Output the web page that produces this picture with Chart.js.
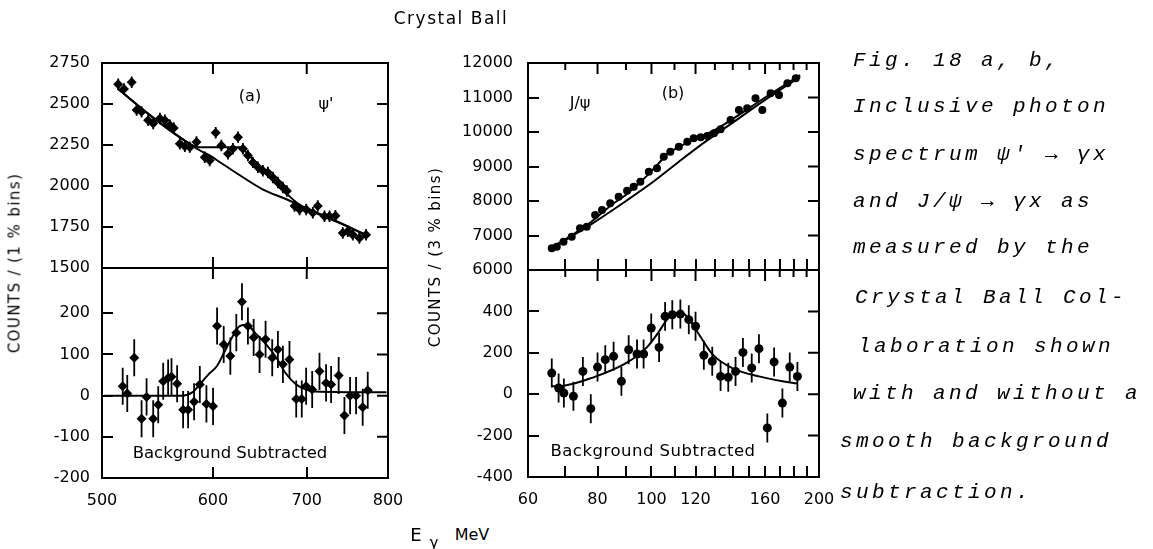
<!DOCTYPE html>
<html><head><meta charset="utf-8">
<script src="https://cdn.jsdelivr.net/npm/chart.js@4.4.0/dist/chart.umd.min.js"></script>
<style>
html,body{margin:0;padding:0;background:#fff;width:1153px;height:549px;overflow:hidden;position:relative;font-family:"DejaVu Sans",sans-serif;color:#000}
canvas{position:absolute}
.t{position:absolute;white-space:nowrap;line-height:1;transform:translate(-50%,-50%)}
.yl{position:absolute;white-space:nowrap;line-height:1;font-size:15px;letter-spacing:1.4px;transform:translate(-50%,-50%) rotate(-90deg)}
.cap{position:absolute;white-space:nowrap;font-family:"Liberation Mono",monospace;font-style:italic;font-size:21px;letter-spacing:3.4px;line-height:26px}
</style></head><body>
<canvas id="aTop"></canvas><canvas id="aBot"></canvas><canvas id="bTop"></canvas><canvas id="bBot"></canvas>

<div class="t" style="left:451px;top:18px;font-size:17px;letter-spacing:1.5px">Crystal Ball</div>
<div class="yl" style="left:15px;top:263px">COUNTS / (1 % bins)</div>
<div class="yl" style="left:435px;top:257px">COUNTS / (3 % bins)</div>
<div class="t" style="left:250px;top:96px;font-size:16px">(a)</div>
<div class="t" style="left:326px;top:104px;font-size:16px">ψ'</div>
<div class="t" style="left:673px;top:93px;font-size:16px">(b)</div>
<div class="t" style="left:580px;top:103px;font-size:16px">J/ψ</div>
<div class="t" style="left:230px;top:453px;font-size:16.5px">Background Subtracted</div>
<div class="t" style="left:653px;top:451px;font-size:16.5px;letter-spacing:0.5px">Background Subtracted</div>
<div class="t" style="left:416px;top:535px;font-size:18px">E</div>
<div class="t" style="left:434px;top:543px;font-size:15px">γ</div>
<div class="t" style="left:472px;top:535px;font-size:16px">MeV</div>

<div class="cap" style="left:853px;top:48px">Fig. 18 a, b,</div>
<div class="cap" style="left:853px;top:94px">Inclusive photon</div>
<div class="cap" style="left:853px;top:142px">spectrum ψ' → γx</div>
<div class="cap" style="left:853px;top:189px">and J/ψ → γx as</div>
<div class="cap" style="left:853px;top:235px">measured by the</div>
<div class="cap" style="left:855px;top:285px">Crystal Ball Col-</div>
<div class="cap" style="left:858px;top:334px">laboration shown</div>
<div class="cap" style="left:853px;top:381px">with and without a</div>
<div class="cap" style="left:840px;top:429px">smooth background</div>
<div class="cap" style="left:840px;top:480px">subtraction.</div>

<script>
// ---------- Panel (a): psi' (E in MeV, counts per 1% bin) ----------
const aTicksX = [500, 600, 700, 800];
const aLabelsX = [500, 600, 700, 800];
const aTopTicksY = [1500, 1750, 2000, 2250, 2500, 2750];
const aBotTicksY = [-200, -100, 0, 100, 200];

const aTopE = [513.5, 518.4, 525.0, 529.3, 533.6, 539.4, 543.9, 549.9, 554.4, 559.0, 562.6, 568.2, 572.9, 577.6, 584.0, 592.0, 596.8, 602.7, 608.4, 615.0, 620.0, 625.2, 630.3, 635.5, 640.7, 646.0, 651.3, 656.7, 662.1, 667.6, 673.1, 677.5, 686.1, 691.8, 699.4, 707.0, 712.8, 720.7, 726.7, 733.8, 742.7, 748.8, 755.0, 763.3, 771.7];
const aTopCounts = [2621, 2592, 2633, 2463, 2452, 2401, 2381, 2411, 2401, 2370, 2354, 2257, 2243, 2237, 2268, 2175, 2155, 2325, 2247, 2196, 2227, 2298, 2227, 2186, 2144, 2114, 2093, 2083, 2052, 2021, 1991, 1970, 1878, 1857, 1857, 1837, 1878, 1816, 1816, 1818, 1713, 1724, 1703, 1683, 1703];
const aTopErr = 35;
const aTopBgE = [513, 541, 568, 587, 597, 607, 620, 651, 677, 710, 743, 772];
const aTopBgCounts = [2595, 2432, 2298, 2218, 2185, 2145, 2093, 1980, 1919, 1837, 1765, 1700];
const aTopFitE = [513, 541, 568, 587, 607, 627, 638, 651, 666, 677, 692, 710, 743, 772];
const aTopFitCounts = [2595, 2432, 2298, 2236, 2237, 2236, 2178, 2103, 2021, 1955, 1885, 1842, 1767, 1700];

const aBotE = [517.3, 521.2, 527.2, 533.6, 538.0, 543.9, 548.4, 552.9, 557.4, 560.5, 565.7, 571.3, 576.0, 581.7, 587.2, 593.6, 600.1, 604.1, 610.7, 617.4, 623.5, 629.3, 635.5, 641.5, 647.8, 654.2, 661.4, 667.6, 673.1, 680.4, 688.0, 694.3, 699.3, 706.3, 714.8, 722.6, 728.6, 737.7, 744.7, 751.7, 759.1, 767.4, 773.8];
const aBotCounts = [23, 5, 92, -56, -3, -56, -22, 35, 43, 46, 29, -34, -34, -15, 27, -20, -26, 169, 124, 96, 153, 228, 169, 141, 100, 137, 92, 112, 76, 88, -8, -8, 23, 15, 59, 31, 27, 49, -48, 0, 0, -28, 13];
const aBotErr = 45;
const aBotFitE = [502, 570, 580, 587, 595, 604, 611, 617, 627, 634, 644, 655, 666, 676, 688, 699, 710, 798];
const aBotFitCounts = [0, 0, 8, 27, 50, 72, 104, 132, 169, 172, 150, 124, 92, 55, 27, 15, 10, 8];

// ---------- Panel (b): J/psi (E in MeV, counts per 3% bin) ----------
const bTicksX = [60, 70, 80, 90, 100, 110, 120, 130, 140, 150, 160, 170, 180, 190, 200];
const bLabelsX = [60, 80, 100, 120, 160, 200];
const bTopTicksY = [6000, 7000, 8000, 9000, 10000, 11000, 12000];
const bBotTicksY = [-400, -200, 0, 200, 400];

const bTopE = [66.2, 67.6, 69.5, 71.9, 74.4, 76.5, 79.2, 81.5, 84.3, 87.3, 90.4, 92.9, 95.5, 98.9, 102.3, 105.2, 108.1, 112.0, 116.0, 119.1, 122.6, 126.0, 129.5, 133.1, 138.7, 143.6, 148.6, 153.8, 158.2, 163.7, 169.5, 175.5, 181.7];
const bTopCounts = [6627, 6675, 6820, 6965, 7208, 7254, 7594, 7738, 7933, 8124, 8298, 8414, 8559, 8849, 8947, 9284, 9429, 9574, 9719, 9817, 9846, 9884, 9962, 10078, 10348, 10637, 10686, 10976, 10637, 11122, 11072, 11411, 11556];
const bTopErr = 60;
const bTopBgE = [66, 78, 90, 100, 112, 125, 140, 160, 185];
const bTopBgCounts = [6620, 7330, 8000, 8520, 9140, 9720, 10270, 10930, 11600];
const bTopFitE = [66, 70, 78, 85, 90, 98, 103, 107, 112, 117, 122, 129, 140, 160, 185];
const bTopFitCounts = [6650, 6890, 7400, 7900, 8180, 8720, 9090, 9380, 9560, 9730, 9860, 10030, 10380, 11000, 11650];

const bBotE = [66.2, 68.1, 69.6, 72.4, 75.3, 77.8, 80.0, 82.6, 85.5, 88.3, 91.0, 94.2, 96.8, 99.9, 103.2, 105.8, 109.0, 112.7, 116.7, 120.0, 124.2, 128.6, 133.1, 137.4, 141.6, 146.0, 151.4, 156.0, 161.5, 166.1, 171.9, 177.2, 182.9];
const bBotCounts = [102, 30, 6, -10, 110, -70, 131, 167, 183, 62, 215, 194, 194, 320, 226, 376, 384, 387, 360, 328, 188, 159, 86, 82, 110, 202, 127, 220, -163, 156, -43, 131, 86];
const bBotErr = 70;
const bBotFitE = [66.2, 70, 78, 90, 98, 103, 107, 111, 114, 117, 122, 129, 140, 156, 180, 183];
const bBotFitCounts = [38, 42, 78, 150, 225, 300, 365, 392, 390, 360, 285, 190, 125, 86, 54, 52];

// ---------- drawing helpers ----------
const tickFont = { family: '"DejaVu Sans", sans-serif', size: 16 };
const pts = (xs, ys) => xs.map((x, i) => ({ x: x, y: ys[i] }));
const TICK_IN = 11;

function drawFrameTicks(chart, o) {
  const ctx = chart.ctx, a = chart.chartArea, sx = chart.scales.x, sy = chart.scales.y;
  ctx.save();
  ctx.strokeStyle = '#000';
  ctx.lineWidth = 2;
  ctx.strokeRect(a.left, a.top, a.right - a.left, a.bottom - a.top);
  ctx.beginPath();
  for (const v of o.xTicks) {
    const p = sx.getPixelForValue(v);
    if (p > a.left + 2 && p < a.right - 2) {
      const len = o.xLabels.indexOf(v) >= 0 ? TICK_IN : 7;
      ctx.moveTo(p, a.top); ctx.lineTo(p, a.top + len);
    }
  }
  for (const v of o.yTicks) {
    const p = sy.getPixelForValue(v);
    if (p > a.top + 2 && p < a.bottom - 2) {
      ctx.moveTo(a.right, p); ctx.lineTo(a.right - TICK_IN, p);
    }
  }
  ctx.stroke();
  ctx.restore();
}

function drawErrors(chart) {
  const ctx = chart.ctx, sx = chart.scales.x, sy = chart.scales.y;
  ctx.save();
  ctx.strokeStyle = '#000'; ctx.lineWidth = 1.8;
  ctx.beginPath();
  chart.data.datasets.forEach(ds => {
    if (!ds.errHalf) return;
    ds.data.forEach(d => {
      const px = sx.getPixelForValue(d.x);
      ctx.moveTo(px, sy.getPixelForValue(d.y - ds.errHalf));
      ctx.lineTo(px, sy.getPixelForValue(d.y + ds.errHalf));
    });
  });
  ctx.stroke();
  ctx.restore();
}

function fitLine(xs, ys) {
  return { data: pts(xs, ys), showLine: true, pointRadius: 0, borderColor: '#000', borderWidth: 2,
           cubicInterpolationMode: 'monotone', fill: false };
}
function markers(xs, ys, err, style, r) {
  return { data: pts(xs, ys), showLine: false, pointStyle: style, pointRadius: r, pointBorderWidth: 0,
           backgroundColor: '#000', borderColor: '#000', errHalf: err };
}

// inward tick marks on left and bottom edges, drawn by the library's own grid (negative tick length)
const inwardGrid = { display: true, drawOnChartArea: false, drawTicks: true, tickLength: -TICK_IN,
                     color: '#000', lineWidth: 2 };

function makePanel(id, area, o) {
  const padT = 46, padR = 50, yW = 100, xH = 40;
  const cv = document.getElementById(id);
  const w = area.R - area.L + yW + padR, h = area.B - area.T + padT + xH;
  cv.width = w; cv.height = h;
  cv.style.left = (area.L - yW) + 'px'; cv.style.top = (area.T - padT) + 'px';
  new Chart(cv, {
    type: 'scatter',
    data: { datasets: o.datasets },
    options: {
      responsive: false, animation: false, devicePixelRatio: 1, events: [],
      layout: { padding: { top: padT, right: padR, left: 0, bottom: 0 } },
      plugins: { legend: { display: false }, tooltip: { enabled: false } },
      scales: {
        x: {
          type: 'logarithmic', min: o.xMin, max: o.xMax,
          afterBuildTicks: s => { s.ticks = o.xTicks.map(v => ({ value: v })); },
          afterFit: s => { s.height = xH; },
          grid: inwardGrid, border: { display: false },
          ticks: { display: o.showX, autoSkip: false, maxRotation: 0, minRotation: 0, padding: 13 + TICK_IN,
                   font: tickFont, color: '#000',
                   callback: v => o.xLabels.indexOf(v) >= 0 ? String(v) : '' }
        },
        y: {
          type: 'linear', min: o.yMin, max: o.yMax,
          afterBuildTicks: s => { s.ticks = o.yTicks.map(v => ({ value: v })); },
          afterFit: s => { s.width = yW; },
          grid: inwardGrid, border: { display: false },
          ticks: { padding: o.yPad + TICK_IN, font: tickFont, color: '#000', callback: v => String(v) }
        }
      }
    },
    plugins: [{
      id: 'frameticks',
      beforeDatasetsDraw(chart) { drawErrors(chart); },
      afterDatasetsDraw(chart) { drawFrameTicks(chart, o); }
    }]
  });
}

makePanel('aTop', { L: 102, T: 63, R: 388, B: 268 }, {
  xMin: 500, xMax: 800, xTicks: aTicksX, xLabels: aLabelsX, showX: false,
  yMin: 1500, yMax: 2750, yTicks: aTopTicksY, yPad: 12,
  datasets: [fitLine(aTopBgE, aTopBgCounts), fitLine(aTopFitE, aTopFitCounts),
             markers(aTopE, aTopCounts, aTopErr, 'rectRot', 5)]
});
makePanel('aBot', { L: 102, T: 268, R: 388, B: 478 }, {
  xMin: 500, xMax: 800, xTicks: aTicksX, xLabels: aLabelsX, showX: true,
  yMin: -200, yMax: 310, yTicks: aBotTicksY, yPad: 12,
  datasets: [fitLine(aBotFitE, aBotFitCounts), markers(aBotE, aBotCounts, aBotErr, 'rectRot', 5)]
});
makePanel('bTop', { L: 528, T: 63, R: 819, B: 270 }, {
  xMin: 60, xMax: 200, xTicks: bTicksX, xLabels: bLabelsX, showX: false,
  yMin: 6000, yMax: 12000, yTicks: bTopTicksY, yPad: 15,
  datasets: [fitLine(bTopBgE, bTopBgCounts), fitLine(bTopFitE, bTopFitCounts),
             markers(bTopE, bTopCounts, bTopErr, 'circle', 4)]
});
makePanel('bBot', { L: 528, T: 270, R: 819, B: 477 }, {
  xMin: 60, xMax: 200, xTicks: bTicksX, xLabels: bLabelsX, showX: true,
  yMin: -400, yMax: 600, yTicks: bBotTicksY, yPad: 15,
  datasets: [fitLine(bBotFitE, bBotFitCounts), markers(bBotE, bBotCounts, bBotErr, 'circle', 4.5)]
});
</script>
</body></html>
